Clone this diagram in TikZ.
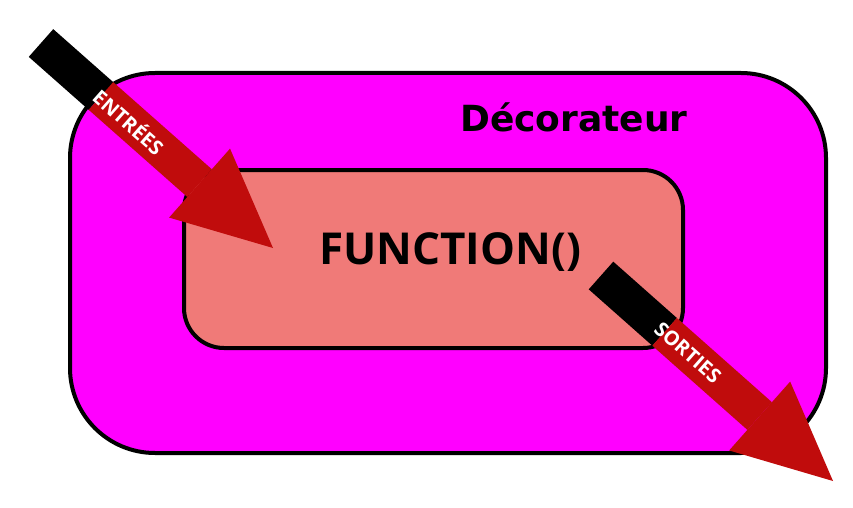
\documentclass[tikz,border=0pt]{standalone}
\usepackage{fontspec}
\setmainfont{Open Sans}
\newfontfamily\dejavu{DejaVu Sans}
\usetikzlibrary{arrows.meta,calc}
\definecolor{decomag}{RGB}{255,0,255}
\definecolor{funcfill}{RGB}{240,122,120}
\definecolor{arrowred}{RGB}{192,12,12}
\begin{document}
\begin{tikzpicture}[x=1pt,y=-1pt,
  box/.style={draw=black, line width=4pt, rectangle},
  shaft/.style={line width=37pt},
  redpart/.style={shaft, draw=arrowred, -{Triangle[length=98pt,width=92pt,line width=0pt]}},
  tailpart/.style={shaft, draw=black},
  arrowlabel/.style={text=white, font=\bfseries\fontsize{20}{20}\selectfont, rotate=-41.46, inner sep=0pt},
  decotitle/.style={font=\dejavu\bfseries\fontsize{36}{36}\selectfont, inner sep=0pt},
  functitle/.style={font=\bfseries\fontsize{44}{44}\selectfont, inner sep=0pt}]
\path[use as bounding box, fill=white] (0,0) rectangle (853,508);
\node[box, fill=decomag, rounded corners=85pt, minimum width=756pt, minimum height=380pt] (deco) at (448,263) {};
\node[box, fill=funcfill, rounded corners=40pt, minimum width=499pt, minimum height=178pt] (func) at (433.5,259) {};
\node[decotitle] (decolabel) at (574,117) {Décorateur};
\node[functitle] (funclabel) at (450,252) {FUNCTION()};
\coordinate (inS) at (41,43);
\coordinate (inT) at (273,248);
\coordinate (inM) at ($(inS)!80pt!(inT)$);
\draw[tailpart] (inS) -- (inM);
\draw[redpart] (inM) -- (inT);
\node[arrowlabel] (inlabel) at ($(inS)!118pt!(inT)$) {ENTRÉES};
\coordinate (outS) at (601,275.5);
\coordinate (outT) at (833,481);
\coordinate (outM) at ($(outS)!85pt!(outT)$);
\draw[tailpart] (outS) -- (outM);
\draw[redpart] (outM) -- (outT);
\node[arrowlabel] (outlabel) at ($(outS)!116pt!(outT)$) {SORTIES};
\end{tikzpicture}
\end{document}
